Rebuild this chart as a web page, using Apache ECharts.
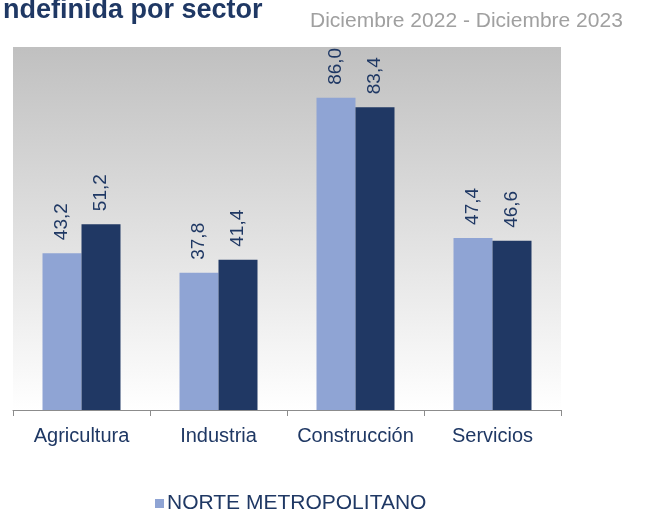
<!DOCTYPE html>
<html>
<head>
<meta charset="utf-8">
<script src="https://cdn.jsdelivr.net/npm/echarts@6/dist/echarts.min.js"></script>
<style>
  html, body { margin: 0; padding: 0; background: #fff; }
  #chart { width: 655px; height: 511px; }
</style>
</head>
<body>
<div id="chart"></div>
<script>
var categories = ["Agricultura", "Industria", "Construcción", "Servicios"];
var norteMetro = [43.2, 37.8, 86.0, 47.4];
var otraSerie = [51.2, 41.4, 83.4, 46.6];

var navy = "#1f3864";
var fmt = function (p) {
  return p.value.toFixed(1).replace(".", ",");
};

var myChart = echarts.init(document.getElementById("chart"));
var option = {
  backgroundColor: "#fff",
  textStyle: { fontFamily: "Liberation Sans" },
  title: [
    {
      text: "ndefinida por sector",
      left: -2,
      top: -8,
      textStyle: { color: navy, fontSize: 27, fontWeight: "bold", fontFamily: "Liberation Sans" }
    },
    {
      text: "Diciembre 2022 - Diciembre 2023",
      left: 305,
      top: 6,
      textStyle: { color: "#a0a0a0", fontSize: 21, fontWeight: "normal", fontFamily: "Liberation Sans" }
    }
  ],
  grid: {
    left: 13,
    right: 94,
    top: 47,
    bottom: 101,
    show: true,
    borderWidth: 0,
    backgroundColor: new echarts.graphic.LinearGradient(0, 0, 0, 1, [
      { offset: 0, color: "#c0c0c0" },
      { offset: 1, color: "#ffffff" }
    ])
  },
  legend: {
    data: ["NORTE METROPOLITANO"],
    left: 150,
    top: 488,
    icon: "rect",
    itemWidth: 9,
    itemHeight: 9,
    itemGap: 4,
    textStyle: { color: navy, fontSize: 21, padding: [0, 0, 0, -2] }
  },
  xAxis: {
    type: "category",
    data: categories,
    axisLine: { lineStyle: { color: "#8c8c8c", width: 1 } },
    axisTick: { show: true, interval: 0, length: 6, lineStyle: { color: "#8c8c8c" } },
    axisLabel: { color: navy, fontSize: 20, margin: 16, interval: 0 }
  },
  yAxis: {
    type: "value",
    min: 0,
    max: 100,
    show: false,
    splitLine: { show: false }
  },
  series: [
    {
      name: "NORTE METROPOLITANO",
      type: "bar",
      data: norteMetro,
      barWidth: 39,
      barGap: "0%",
      itemStyle: { color: "#8fa4d4" },
      label: {
        show: true,
        position: "top",
        rotate: 90,
        align: "left",
        verticalAlign: "middle",
        distance: 13,
        color: navy,
        fontSize: 19,
        formatter: fmt
      }
    },
    {
      name: "Serie 2",
      type: "bar",
      data: otraSerie,
      barWidth: 39,
      barGap: "0%",
      itemStyle: { color: "#203864" },
      label: {
        show: true,
        position: "top",
        rotate: 90,
        align: "left",
        verticalAlign: "middle",
        distance: 13,
        color: navy,
        fontSize: 19,
        formatter: fmt
      }
    }
  ]
};
myChart.setOption(option);
</script>
</body>
</html>
